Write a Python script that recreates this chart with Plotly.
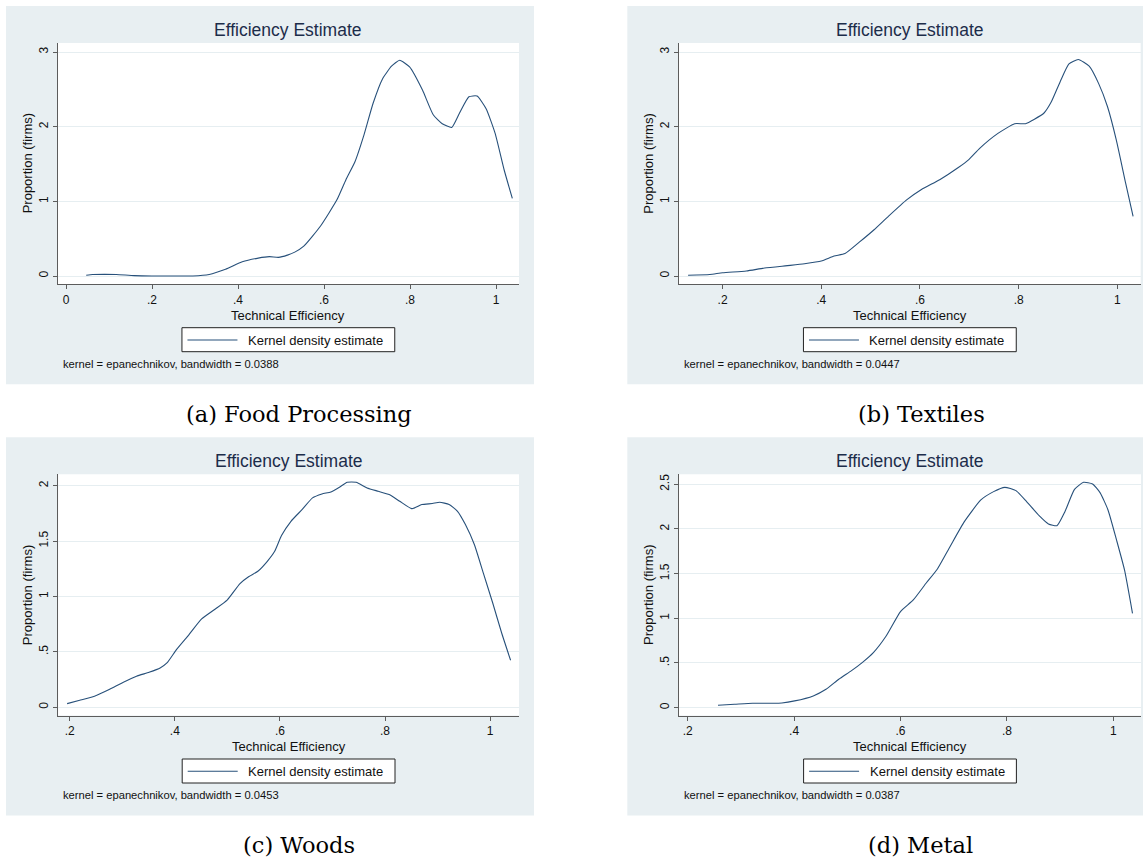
import plotly.graph_objects as go

W, H = 1143, 863

# ---- kernel density curves (Technical Efficiency vs density) ----
food_x = [0.047, 0.062, 0.09, 0.117, 0.159, 0.2, 0.25, 0.295, 0.333, 0.371, 0.41, 0.447,
          0.473, 0.494, 0.515, 0.532, 0.553, 0.592, 0.63, 0.651, 0.672, 0.693, 0.714, 0.736,
          0.757, 0.776, 0.799, 0.829, 0.854, 0.875, 0.897, 0.915, 0.937, 0.956, 0.977, 0.998,
          1.019, 1.038]
food_y = [0.01, 0.02, 0.022, 0.02, 0.005, 0.0, 0.0, 0.0, 0.02, 0.09, 0.19, 0.24,
          0.26, 0.25, 0.28, 0.32, 0.40, 0.67, 1.02, 1.29, 1.53, 1.89, 2.31, 2.64,
          2.81, 2.89, 2.8, 2.49, 2.16, 2.04, 1.99, 2.18, 2.4, 2.41, 2.24, 1.91,
          1.42, 1.04]

textiles_x = [0.13, 0.174, 0.2, 0.248, 0.285, 0.337, 0.366, 0.4, 0.426, 0.448, 0.477, 0.507,
              0.536, 0.573, 0.603, 0.64, 0.677, 0.699, 0.721, 0.758, 0.792, 0.814, 0.832,
              0.851, 0.866, 0.884, 0.902, 0.921, 0.943, 0.962, 0.98, 0.998, 1.017, 1.032]
textiles_y = [0.01, 0.02, 0.044, 0.067, 0.107, 0.142, 0.164, 0.2, 0.267, 0.3, 0.453, 0.62,
              0.8, 1.02, 1.16, 1.29, 1.45, 1.56, 1.71, 1.91, 2.04, 2.04, 2.1,
              2.18, 2.33, 2.6, 2.84, 2.9, 2.81, 2.58, 2.27, 1.82, 1.24, 0.8]

woods_x = [0.195, 0.219, 0.247, 0.275, 0.302, 0.327, 0.351, 0.372, 0.385, 0.403, 0.427, 0.451,
           0.475, 0.5, 0.524, 0.541, 0.558, 0.576, 0.59, 0.603, 0.621, 0.642, 0.662, 0.68,
           0.697, 0.714, 0.728, 0.745, 0.766, 0.787, 0.808, 0.828, 0.851, 0.87, 0.89, 0.904,
           0.922, 0.938, 0.953, 0.97, 0.987, 1.005, 1.022, 1.039]
woods_y = [0.033, 0.063, 0.1, 0.16, 0.226, 0.28, 0.316, 0.355, 0.4, 0.52, 0.656, 0.797,
           0.88, 0.97, 1.116, 1.18, 1.227, 1.317, 1.407, 1.549, 1.678, 1.783, 1.889, 1.925,
           1.943, 1.988, 2.03, 2.03, 1.979, 1.949, 1.919, 1.859, 1.792, 1.829, 1.838, 1.85,
           1.829, 1.768, 1.648, 1.468, 1.212, 0.941, 0.67, 0.424]

metal_x = [0.257, 0.288, 0.322, 0.357, 0.377, 0.401, 0.436, 0.46, 0.484, 0.508, 0.528, 0.549,
           0.573, 0.6, 0.624, 0.648, 0.669, 0.693, 0.72, 0.751, 0.775, 0.796, 0.817, 0.837,
           0.861, 0.878, 0.894, 0.909, 0.927, 0.944, 0.961, 0.975, 0.99, 1.006, 1.021, 1.036]
metal_y = [0.026, 0.037, 0.049, 0.049, 0.052, 0.075, 0.131, 0.205, 0.317, 0.414, 0.504, 0.616,
           0.802, 1.075, 1.205, 1.392, 1.549, 1.802, 2.082, 2.325, 2.418, 2.466, 2.429, 2.306,
           2.146, 2.056, 2.037, 2.194, 2.444, 2.522, 2.504, 2.407, 2.213, 1.877, 1.541, 1.056]

# ---- text and ticks ----
captions = ["(a) Food Processing", "(b) Textiles", "(c) Woods", "(d) Metal"]
bandwidths = ["0.0388", "0.0447", "0.0453", "0.0387"]
chart_title = "Efficiency Estimate"
x_title = "Technical Efficiency"
y_title = "Proportion (firms)"
legend_label = "Kernel density estimate"

x_ticks_a = [0, 0.2, 0.4, 0.6, 0.8, 1]
x_labels_a = ["0", ".2", ".4", ".6", ".8", "1"]
x_ticks = [0.2, 0.4, 0.6, 0.8, 1]
x_labels = [".2", ".4", ".6", ".8", "1"]
y_ticks_ab = [0, 1, 2, 3]
y_labels_ab = ["0", "1", "2", "3"]
y_ticks_c = [0, 0.5, 1, 1.5, 2]
y_labels_c = ["0", ".5", "1", "1.5", "2"]
y_ticks_d = [0, 0.5, 1, 1.5, 2, 2.5]
y_labels_d = ["0", ".5", "1", "1.5", "2", "2.5"]

# ---- styling ----
BG = "#e8eff2"
GRID = "#e6eef1"
AXIS = "#5c5c5c"
LINE = "#27507a"
TITLE_C = "#1c2c4a"
SANS = "Liberation Sans, Arial, sans-serif"
SERIF = "DejaVu Serif, serif"


def px(x):
    return x / W


def py(y):
    return 1 - y / H


# panel geometry in screen pixels
panels = [
    dict(x=food_x, y=food_y, xt=x_ticks_a, xl=x_labels_a, yt=y_ticks_ab, yl=y_labels_ab,
         xr=[-0.0193, 1.0535], yr=[-0.111, 3.121],
         bg=(6, 6, 534, 384.3), plot=(57.7, 43, 519, 284.3), cap_x=299, dy=0),
    dict(x=textiles_x, y=textiles_y, xt=x_ticks, xl=x_labels, yt=y_ticks_ab, yl=y_labels_ab,
         xr=[0.1116, 1.0474], yr=[-0.111, 3.121],
         bg=(627.3, 6, 1143, 384.3), plot=(679, 43, 1140.7, 284.3), cap_x=921, dy=0),
    dict(x=woods_x, y=woods_y, xt=x_ticks, xl=x_labels, yt=y_ticks_c, yl=y_labels_c,
         xr=[0.178, 1.055], yr=[-0.075, 2.102],
         bg=(6, 437.3, 534, 815.6), plot=(58.2, 474.3, 519, 715.6), cap_x=299, dy=431.3),
    dict(x=metal_x, y=metal_y, xt=x_ticks, xl=x_labels, yt=y_ticks_d, yl=y_labels_d,
         xr=[0.1837, 1.052], yr=[-0.0895, 2.612],
         bg=(627.3, 437.3, 1143, 815.6), plot=(679, 474.3, 1141, 715.6), cap_x=920.5, dy=431.3),
]

fig = go.Figure()
shapes = []
annotations = []
layout_axes = {}

for i, p in enumerate(panels):
    n = "" if i == 0 else str(i + 1)
    xa, ya = "x" + n, "y" + n
    x0, y0, x1, y1 = p["plot"]
    bx0, by0, bx1, by1 = p["bg"]
    dy = p["dy"]
    cx = (x0 + x1) / 2

    fig.add_trace(go.Scatter(
        x=p["x"], y=p["y"], xaxis=xa, yaxis=ya, mode="lines",
        line=dict(color=LINE, width=1.1, shape="spline", smoothing=0.5),
        name=legend_label, showlegend=False, hoverinfo="x+y",
    ))

    layout_axes["xaxis" + n] = dict(
        domain=[px(x0), px(x1)], range=p["xr"], anchor=ya,
        tickmode="array", tickvals=p["xt"], ticktext=p["xl"],
        ticks="outside", ticklen=4, tickcolor=AXIS, tickwidth=1,
        showline=True, linecolor=AXIS, linewidth=1,
        showgrid=False, zeroline=False, fixedrange=True,
        tickfont=dict(family=SANS, size=12, color="#111111"),
    )
    layout_axes["yaxis" + n] = dict(
        domain=[py(y1), py(y0)], range=p["yr"], anchor=xa,
        tickmode="array", tickvals=p["yt"], ticktext=p["yl"], tickangle=-90,
        ticks="outside", ticklen=4, tickcolor=AXIS, tickwidth=1,
        showline=True, linecolor=AXIS, linewidth=1,
        showgrid=True, gridcolor=GRID, gridwidth=1, zeroline=False, fixedrange=True,
        tickfont=dict(family=SANS, size=12, color="#111111"),
    )

    # panel background and white plot region
    shapes.append(dict(type="rect", xref="paper", yref="paper", layer="below",
                       x0=px(bx0), x1=px(bx1), y0=py(by1), y1=py(by0),
                       fillcolor=BG, line=dict(width=0)))
    shapes.append(dict(type="rect", xref="paper", yref="paper", layer="below",
                       x0=px(x0), x1=px(x1), y0=py(y1), y1=py(y0),
                       fillcolor="white", line=dict(width=0)))

    # legend box
    lx0, lx1 = cx - 106.4, cx + 106.4
    ly0, ly1 = 327.7 + dy, 351.7 + dy
    shapes.append(dict(type="rect", xref="paper", yref="paper", layer="above",
                       x0=px(lx0), x1=px(lx1), y0=py(ly1), y1=py(ly0),
                       fillcolor="white", line=dict(color="#222222", width=1)))
    shapes.append(dict(type="line", xref="paper", yref="paper", layer="above",
                       x0=px(lx0 + 5.5), x1=px(lx0 + 55.5), y0=py(340 + dy), y1=py(340 + dy),
                       line=dict(color=LINE, width=1.1)))
    annotations.append(dict(text=legend_label, xref="paper", yref="paper",
                            x=px(lx0 + 64), y=py(340.3 + dy), xanchor="left", yanchor="middle",
                            showarrow=False, font=dict(family=SANS, size=13, color="#111111")))

    # title, axis titles, note, caption
    annotations.append(dict(text=chart_title, xref="paper", yref="paper",
                            x=px(cx), y=py(30 + dy), xanchor="center", yanchor="middle",
                            showarrow=False, font=dict(family=SANS, size=17.5, color=TITLE_C)))
    annotations.append(dict(text=x_title, xref="paper", yref="paper",
                            x=px(cx), y=py(315.5 + dy), xanchor="center", yanchor="middle",
                            showarrow=False, font=dict(family=SANS, size=13, color="#111111")))
    annotations.append(dict(text=y_title, xref="paper", yref="paper",
                            x=px(x0 - 30), y=py((y0 + y1) / 2), xanchor="center",
                            yanchor="middle", textangle=-90,
                            showarrow=False, font=dict(family=SANS, size=13, color="#111111")))
    annotations.append(dict(text="kernel = epanechnikov, bandwidth = " + bandwidths[i],
                            xref="paper", yref="paper",
                            x=px(x0 + 2.8), y=py(363.5 + dy), xanchor="left", yanchor="middle",
                            showarrow=False, font=dict(family=SANS, size=11.2, color="#111111")))
    annotations.append(dict(text=captions[i], xref="paper", yref="paper",
                            x=px(p["cap_x"]), y=py(413.5 + dy), xanchor="center",
                            yanchor="middle", showarrow=False,
                            font=dict(family=SERIF, size=22.5, color="#000000")))

fig.update_layout(
    width=W, height=H, margin=dict(l=0, r=0, t=0, b=0),
    paper_bgcolor="white", plot_bgcolor="rgba(0,0,0,0)",
    showlegend=False, shapes=shapes, annotations=annotations,
    **layout_axes,
)

fig.write_html("out.html")
